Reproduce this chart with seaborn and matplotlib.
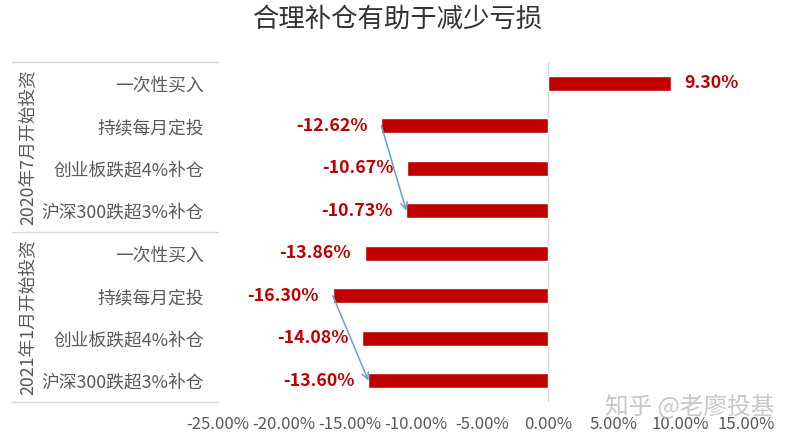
import pandas as pd
import matplotlib
matplotlib.use("Agg")
import matplotlib.pyplot as plt
import matplotlib.transforms as mtransforms
import seaborn as sns

# data
groups = ["2020年7月开始投资", "2021年1月开始投资"]
strategies = ["一次性买入", "持续每月定投", "创业板跌超4%补仓", "沪深300跌超3%补仓"]
returns_2020 = [9.30, -12.62, -10.67, -10.73]
returns_2021 = [-13.86, -16.30, -14.08, -13.60]
x_ticks = [-25, -20, -15, -10, -5, 0, 5, 10, 15]

rows = []
for g, vals in zip(groups, [returns_2020, returns_2021]):
    for s, v in zip(strategies, vals):
        rows.append({"group": g, "strategy": s, "key": f"{g}|{s}", "value": v})
df = pd.DataFrame(rows)

sns.set_theme(style="white")
plt.rcParams["font.family"] = ["Noto Sans CJK SC", "DejaVu Sans"]

red = "#C00000"
gray_text = "#595959"
arrow_color = "#6A9FCF"

fig = plt.figure(figsize=(7.97, 4.40), dpi=100)
ax = fig.add_axes([218 / 797, 1 - 402 / 440, 528 / 797, 340 / 440])

sns.barplot(data=df, x="value", y="key", order=list(df["key"]), color=red,
            orient="h", width=0.36, saturation=1, ax=ax)

ax.set_xticks(x_ticks)
ax.set_xticklabels([f"{t:.2f}%" for t in x_ticks], fontsize=12, color=gray_text)
ax.set_yticks(range(len(df)))
ax.set_yticklabels(df["strategy"], fontsize=12.8, color=gray_text)
ax.tick_params(axis="y", length=0, pad=10)
ax.tick_params(axis="x", length=0, pad=10)
ax.set_xlabel("")
ax.set_ylabel("")
for sp in ax.spines.values():
    sp.set_visible(False)

# zero line
ax.axvline(0, color="#D9D9D9", lw=1, zorder=0)

# value labels
for i, v in enumerate(df["value"]):
    ax.annotate(f"{v:.2f}%", (v, i), xytext=(10 if v > 0 else -10, 0),
                textcoords="offset points", ha="left" if v > 0 else "right",
                va="center", fontsize=12.8, fontweight="bold", color=red)

# arrows: monthly DCA -> CSI300 top-up
n = len(strategies)
for gi in range(len(groups)):
    a = gi * n + 1
    b = gi * n + 3
    ax.annotate("", xy=(df["value"][b], b), xytext=(df["value"][a], a),
                arrowprops=dict(arrowstyle="->", color=arrow_color, lw=1.1,
                                shrinkA=0, shrinkB=0, mutation_scale=12))

# group separators and group labels
trans = mtransforms.blended_transform_factory(ax.transAxes, ax.transData)
left = (12 - 218) / 528
for y in [-0.5, n - 0.5, 2 * n - 0.5]:
    ax.plot([left, 0], [y, y], color="#D9D9D9", lw=1, transform=trans, clip_on=False)
for gi, g in enumerate(groups):
    ax.text((28 - 218) / 528, gi * n + (n - 1) / 2, g, transform=trans, rotation=90,
            ha="center", va="center", fontsize=12.8, color=gray_text)

ax.set_xlim(x_ticks[0], x_ticks[-1])
ax.set_ylim(len(df) - 0.5, -0.5)

fig.text(0.5, 1 - 19 / 440, "合理补仓有助于减少亏损", ha="center", va="center",
         fontsize=19, color="#333333")
fig.text(605 / 797, 1 - 406 / 440, "知乎 @老廖投基", ha="left", va="center",
         fontsize=17, color="#BBBBBB", alpha=0.8)

fig.savefig("out.png", dpi=100)
